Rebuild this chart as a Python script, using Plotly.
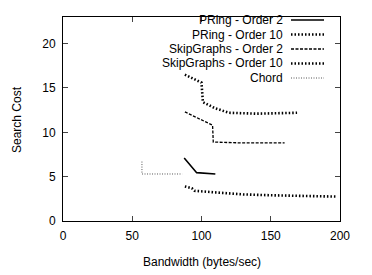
import plotly.graph_objects as go

series_names = ["PRing - Order 2", "PRing - Order 10", "SkipGraphs - Order 2",
                "SkipGraphs - Order 10", "Chord"]

pring2_x = [87.5, 96.5, 110]
pring2_y = [7.1, 5.45, 5.3]

pring10_x = [88, 93, 95, 110, 130, 150, 175, 198]
pring10_y = [3.9, 3.7, 3.4, 3.2, 3.0, 2.9, 2.8, 2.75]

skip2_x = [88, 108, 108.5, 130, 160]
skip2_y = [12.3, 10.8, 8.9, 8.8, 8.8]

skip10_x = [88, 100, 101, 110, 120, 140, 169]
skip10_y = [16.5, 15.6, 13.4, 12.7, 12.2, 12.1, 12.2]

chord_x = [57, 57, 86]
chord_y = [6.7, 5.3, 5.3]

x_ticks = [0, 50, 100, 150, 200]
y_ticks = [0, 5, 10, 15, 20]

styles = [
    dict(color="black", width=1.6, dash="solid"),
    dict(color="black", width=2.6, dash="1.5px,2px"),
    dict(color="black", width=1.3, dash="3px,1.5px"),
    dict(color="black", width=2.6, dash="1.5px,2px"),
    dict(color="#555555", width=1, dash="1px,1.5px"),
]
data = [(pring2_x, pring2_y), (pring10_x, pring10_y), (skip2_x, skip2_y),
        (skip10_x, skip10_y), (chord_x, chord_y)]

fig = go.Figure()
for name, (xs, ys), st in zip(series_names, data, styles):
    fig.add_trace(go.Scatter(x=xs, y=ys, mode="lines", name=name, line=st,
                             showlegend=False))

font = dict(family="Liberation Sans, Arial, sans-serif", size=12, color="black")

L, R, T, B = 63, 340, 17, 221
W, H = R - L, B - T

# custom gnuplot-style legend: text right-aligned, sample on the right
row_y = [20, 34.5, 49, 63.5, 78]
for name, st, ry in zip(series_names, styles, row_y):
    yy = 1 - (ry - T) / H
    fig.add_annotation(xref="paper", yref="paper", x=(285 - L) / W, y=yy,
                       text=name, showarrow=False, xanchor="right", yanchor="middle",
                       font=font)
    fig.add_shape(type="line", xref="paper", yref="paper",
                  x0=(291 - L) / W, x1=(324 - L) / W, y0=yy, y1=yy,
                  line=st)

# axis titles
fig.add_annotation(xref="paper", yref="paper", x=0.5, y=-(262 - B) / H,
                   text="Bandwidth (bytes/sec)", showarrow=False,
                   xanchor="center", yanchor="middle", font=font)
fig.add_annotation(xref="paper", yref="paper", x=-(L - 17) / W, y=1 - (120 - T) / H,
                   text="Search Cost", showarrow=False, textangle=-90,
                   xanchor="center", yanchor="middle", font=font)

fig.update_layout(
    width=372, height=275,
    margin=dict(l=L, r=372 - R, t=T, b=275 - B, autoexpand=False),
    paper_bgcolor="white", plot_bgcolor="white",
    font=font,
)
fig.update_xaxes(range=[0, 200], tickvals=x_ticks, ticks="inside", ticklen=5,
                 showline=True, linecolor="black", linewidth=1, mirror="ticks",
                 showgrid=False, zeroline=False, tickfont=dict(size=12),
                 automargin=False, ticklabelstandoff=4)
fig.update_yaxes(range=[0, 23], tickvals=y_ticks, ticks="inside", ticklen=5,
                 showline=True, linecolor="black", linewidth=1, mirror="ticks",
                 showgrid=False, zeroline=False, tickfont=dict(size=12),
                 automargin=False, ticklabelstandoff=4)

fig.write_html("out.html", config={"displayModeBar": False},
               post_script="document.body.style.margin='0px';document.body.style.overflow='hidden';")
